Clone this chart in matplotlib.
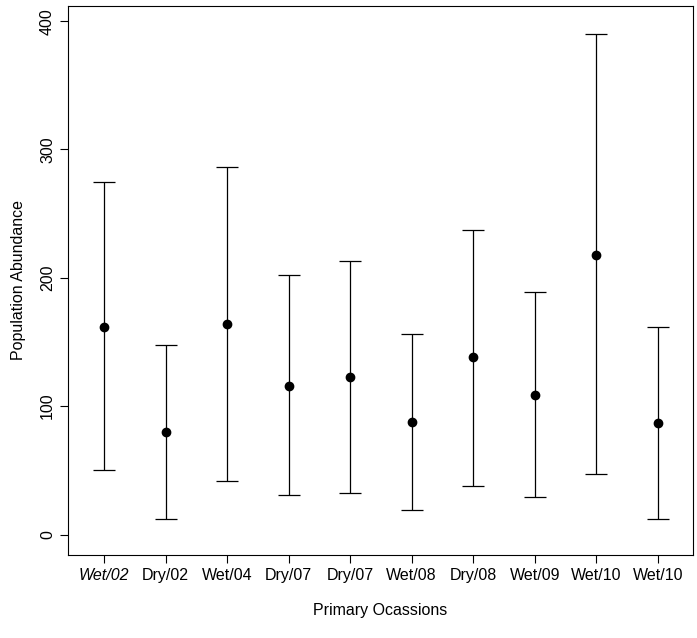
import matplotlib.pyplot as plt
import numpy as np

labels = ["Wet/02", "Dry/02", "Wet/04", "Dry/07", "Dry/07", "Wet/08", "Dry/08", "Wet/09", "Wet/10", "Wet/10"]
means = [162, 80, 164, 116, 123, 88, 138, 109, 218, 87]
upper = [275, 148, 286, 202, 213, 156, 237, 189, 390, 162]
lower = [50, 12, 42, 31, 32, 19, 38, 29, 47, 12]

plt.rcParams["font.family"] = "Liberation Sans"
fig = plt.figure(figsize=(6.97, 6.38), dpi=100)
ax = fig.add_axes([0.098, 0.130, 0.896, 0.861])

x = np.arange(1, len(means) + 1)
m = np.array(means)
err = [m - np.array(lower), np.array(upper) - m]
ax.errorbar(x, m, yerr=err, fmt="o", color="black", ms=6, capsize=8, elinewidth=0.9, capthick=0.9)

ax.set_xlim(0.42, 10.57)
ax.set_ylim(-16, 412)
ax.set_xticks(x)
ax.set_xticklabels(labels, fontsize=11.5)
ax.get_xticklabels()[0].set_style("italic")
ax.set_yticks([0, 100, 200, 300, 400])
ax.set_yticklabels(["0", "100", "200", "300", "400"], rotation=90, va="center", fontsize=11.5)
ax.tick_params(length=6, width=0.8)
ax.set_xlabel("Primary Ocassions", fontsize=11.5, labelpad=14)
ax.set_ylabel("Population Abundance", fontsize=11.5, labelpad=10)
for s in ax.spines.values():
    s.set_linewidth(0.8)

fig.savefig("out.png", dpi=100)
